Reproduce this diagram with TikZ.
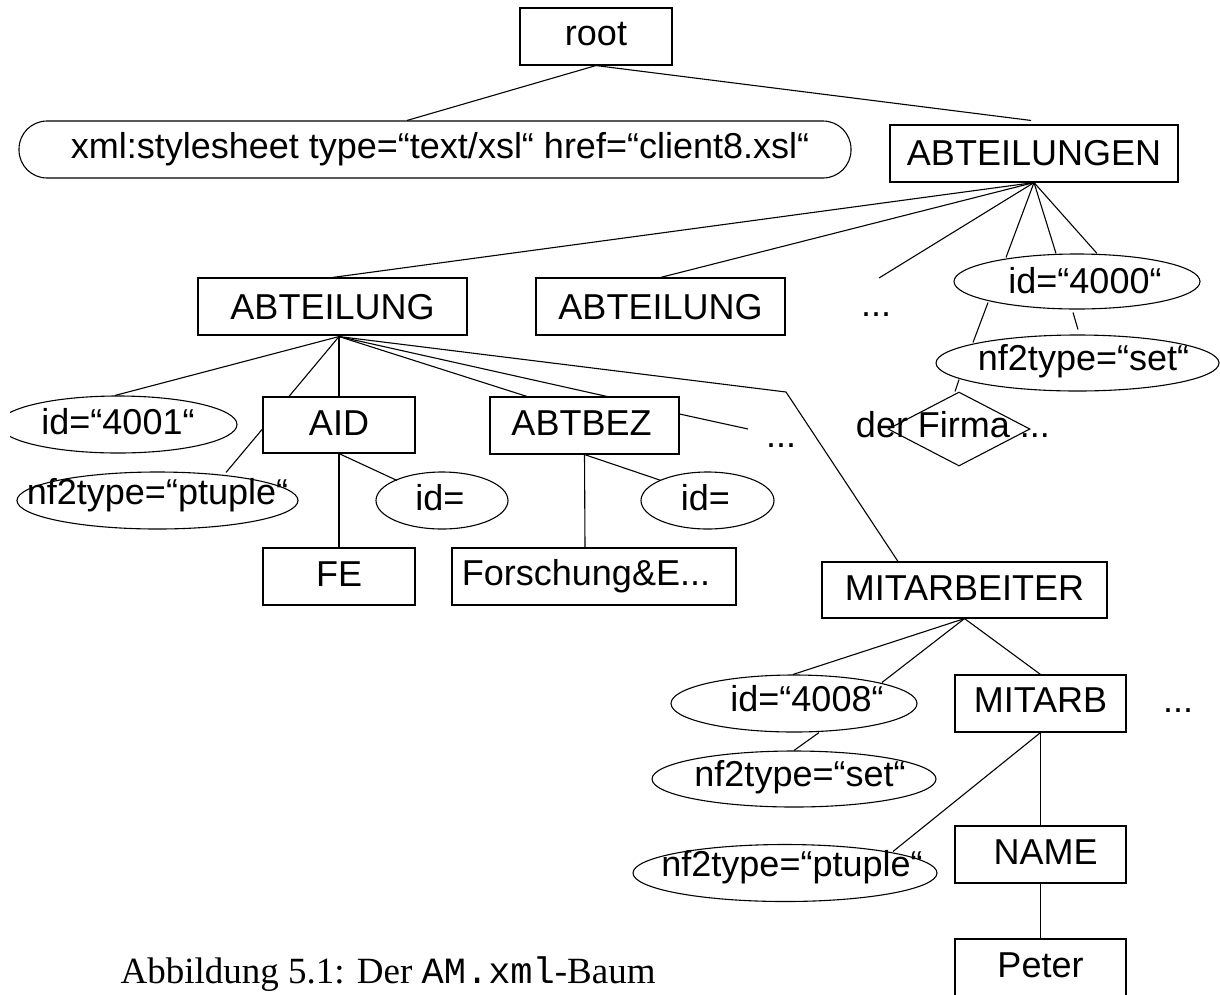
\documentclass[tikz,border=0pt]{standalone}
\usepackage{fontspec}
\setmainfont{Liberation Serif}
\setsansfont{Liberation Sans}
\setmonofont{Liberation Mono}
\usetikzlibrary{shapes.geometric}
\newcommand\lb[3]{\makebox[0pt]{\kern#1pt\kern#1pt\raisebox{-#2pt}{#3}}}
\tikzset{
  every node/.style={font=\sffamily\fontsize{36}{40}\selectfont},
  lbox/.style={draw, rectangle, inner sep=0pt, text height=0pt, text depth=0pt},
  lell/.style={draw, ellipse, inner sep=0pt, text height=0pt, text depth=0pt},
  ldia/.style={draw, diamond, inner sep=0pt, text height=0pt, text depth=0pt},
  dots/.style={anchor=base, inner sep=0pt},
}
\begin{document}
\begin{tikzpicture}[x=1pt,y=-1pt,line width=1.1pt]
\useasboundingbox (0,0) rectangle (1220,994);
\fill[white] (0,0) rectangle (1220,994);
% level 0/1
\node[lbox, minimum width=152pt, minimum height=57pt] (root) at (596,36.5) {\lb{0}{9}{root}};
\node[lbox, rounded corners=28pt, minimum width=832pt, minimum height=57pt] (xml) at (435,149.5) {\lb{5}{9}{xml:stylesheet type=“text/xsl“ href=“client8.xsl“}};
\node[lbox, minimum width=288pt, minimum height=57pt] (abtn) at (1034,153.5) {\lb{0}{12}{ABTEILUNGEN}};
% level 2
\node[lbox, minimum width=269pt, minimum height=57pt] (abt1) at (332.5,306.5) {\lb{0}{13}{ABTEILUNG}};
\node[lbox, minimum width=249pt, minimum height=57pt] (abt2) at (660.5,306.5) {\lb{0}{13}{ABTEILUNG}};
\node[dots] (dots1) at (876,316) {...};
\coordinate (d1) at (879,278);
\node[lell, minimum width=246pt, minimum height=55pt] (id4000) at (1077,281.5) {\lb{8}{12}{id=“4000“}};
\node[lell, minimum width=283pt, minimum height=56pt] (set1) at (1077.5,363) {\lb{6}{7}{nf2type=“set“}};
\node[ldia, minimum width=142pt, minimum height=74pt] (firma) at (959,429) {\lb{-6}{8}{der Firma ...}};
% level 3
\begin{scope}
\clip (10,0) rectangle (1220,994);
\node[lell, minimum width=238pt, minimum height=57pt] (id4001) at (118,424.5) {\lb{0}{10}{id=“4001“}};
\end{scope}
\node[lbox, minimum width=152pt, minimum height=56pt] (aid) at (339,425) {\lb{0}{10}{AID}};
\node[lbox, minimum width=189pt, minimum height=57pt] (abtbez) at (584.5,425.5) {\lb{-3}{10}{ABTBEZ}};
\node[dots] (dots2) at (781,447) {...};
\coordinate (d2) at (748,429);
\coordinate (bend) at (786,392);
\node[lell, minimum width=281pt, minimum height=57pt] (ptuple1) at (157.5,500.5) {\lb{0}{4}{nf2type=“ptuple“}};
\node[lell, minimum width=132pt, minimum height=57pt] (id1) at (442,500.5) {\lb{-2}{10}{id=}};
\node[lell, minimum width=133pt, minimum height=57pt] (id2) at (707.5,500.5) {\lb{-2}{10}{id=}};
\node[lbox, minimum width=152pt, minimum height=57pt] (fe) at (339,576.5) {\lb{0}{9.5}{FE}};
\node[lbox, minimum width=284pt, minimum height=57pt] (forsch) at (594,576.5) {\lb{-8}{8.5}{Forschung\&E...}};
% MITARBEITER subtree
\node[lbox, minimum width=285pt, minimum height=56pt] (mitarbeiter) at (964.5,590) {\lb{0}{10}{MITARBEITER}};
\node[lell, minimum width=246pt, minimum height=57pt] (id4008) at (794,703.5) {\lb{13}{8}{id=“4008“}};
\node[lbox, minimum width=171pt, minimum height=57pt] (mitarb) at (1040.5,703.5) {\lb{0}{9}{MITARB}};
\node[dots] (dots3) at (1178,712) {...};
\node[lell, minimum width=284pt, minimum height=56pt] (set2) at (794,779) {\lb{6}{7.5}{nf2type=“set“}};
\node[lell, minimum width=304pt, minimum height=57pt] (ptuple2) at (785,873) {\lb{7}{3}{nf2type=“ptuple“}};
\node[lbox, minimum width=171pt, minimum height=57pt] (name) at (1040.5,854.5) {\lb{5}{9.5}{NAME}};
\node[lbox, minimum width=171pt, minimum height=57pt] (peter) at (1040.5,967.5) {\lb{0}{9.5}{Peter}};
% caption
\node[anchor=base west, inner sep=0pt, font=\rmfamily\fontsize{37}{40}\selectfont] (cap) at (120,983) {Abbildung 5.1: Der \texttt{AM.xml}-Baum};
% connectors
\draw (root.south) -- ([shift={(-28,0)}]xml.north);
\draw (root.south) -- ([shift={(-3,-4)}]abtn.north);
\draw (abtn.south) -- (abt1.north);
\draw (abtn.south) -- (abt2.north);
\draw (abtn.south) -- (d1);
\draw (abtn.south) -- ([shift={(-71,4)}]id4000.north);
\draw (abtn.south) -- ([shift={(-21,0)}]id4000.north);
\draw (abtn.south) -- ([shift={(20,0)}]id4000.north);
\draw ([shift={(-89,-7)}]id4000.south) -- ([shift={(-104.5,8)}]set1.north);
\draw ([shift={(-4,3)}]id4000.south) -- ([shift={(0.5,-5)}]set1.north);
\draw ([shift={(-118.5,-12)}]set1.south) -- ([shift={(-4,0)}]firma.north);
\coordinate (a1) at ([shift={(6.5,1)}]abt1.south);
\draw (a1) -- ([shift={(-3,0)}]id4001.north);
\draw (a1) -- ([shift={(-50,0)}]aid.north);
\draw (a1) -- (aid.north);
\draw (a1) -- ([shift={(-57.5,0)}]abtbez.north);
\draw (a1) -- ([shift={(22.5,0)}]abtbez.north);
\draw (a1) -- (bend) -- ([shift={(-66.5,0)}]mitarbeiter.north);
\draw ([shift={(0,4)}]aid.west) -- ([shift={(68.5,1)}]ptuple1.north);
\draw (aid.south) -- (fe.north);
\draw (aid.south) -- ([shift={(-45,9)}]id1.north);
\draw ([shift={(0,-11.5)}]abtbez.east) -- (d2);
\draw (abtbez.south) -- ([shift={(-9,0)}]forsch.north);
\draw (abtbez.south) -- ([shift={(-46.5,9)}]id2.north);
\draw (mitarbeiter.south) -- ([shift={(-1,0)}]id4008.north);
\draw (mitarbeiter.south) -- ([shift={(88,8)}]id4008.north);
\draw (mitarbeiter.south) -- (mitarb.north);
\draw ([shift={(25,0)}]id4008.south) -- (set2.north);
\draw (mitarb.south) -- ([shift={(108,7.5)}]ptuple2.north);
\draw (mitarb.south) -- (name.north);
\draw (name.south) -- (peter.north);
\end{tikzpicture}
\end{document}
